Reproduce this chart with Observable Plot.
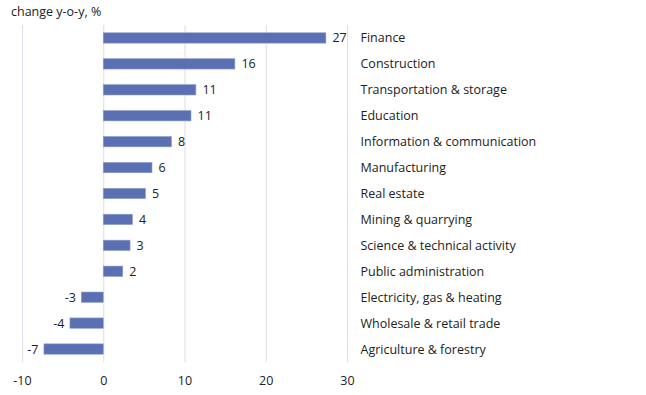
<!DOCTYPE html>
<html>
<head>
<meta charset="utf-8">
<script src="https://cdn.jsdelivr.net/npm/d3@7"></script>
<script src="https://cdn.jsdelivr.net/npm/@observablehq/plot@0.6"></script>
<style>
  body { margin: 0; background: #fff; font-family: "Open Sans", sans-serif; }
  #title { height: 22px; padding-left: 11px; font-size: 12.5px; line-height: 24px; color: #222; }
  #chart svg { display: block; }
</style>
</head>
<body>
<div id="title">change y-o-y, %</div>
<div id="chart"></div>
<script>
const sectors = [
  "Finance", "Construction", "Transportation & storage", "Education",
  "Information & communication", "Manufacturing", "Real estate",
  "Mining & quarrying", "Science & technical activity", "Public administration",
  "Electricity, gas & heating", "Wholesale & retail trade", "Agriculture & forestry"
];
const changes = [27.4, 16.2, 11.4, 10.8, 8.4, 6.0, 5.2, 3.6, 3.3, 2.4, -2.7, -4.1, -7.3];
const xTicks = [-10, 0, 10, 20, 30];

const data = sectors.map((s, i) => ({sector: s, value: changes[i]}));
const fmt = d => String(Math.round(d));

const chart = Plot.plot({
  width: 646,
  height: 373,
  marginTop: 3,
  marginBottom: 33,
  marginLeft: 22,
  marginRight: 299,
  style: {fontFamily: "Open Sans, sans-serif", fontSize: "12px", color: "#222"},
  x: {domain: [-10, 30], ticks: xTicks, label: null, tickSize: 0, tickPadding: 14},
  y: {domain: sectors, paddingInner: 0.6, paddingOuter: 0.3, round: false, label: null},
  marks: [
    Plot.gridX(xTicks, {stroke: "#dcdcea", strokeOpacity: 1}),
    Plot.barX(data, {x: "value", y: "sector", fill: "#5b6fb3", stroke: "#8fa0d0", strokeWidth: 0.6}),
    Plot.text(data.filter(d => d.value >= 0), {x: "value", y: "sector", text: d => fmt(d.value), textAnchor: "start", dx: 6, fontSize: 12.5, fill: "#222"}),
    Plot.text(data.filter(d => d.value < 0), {x: "value", y: "sector", text: d => fmt(d.value), textAnchor: "end", dx: -6, fontSize: 12.5, fill: "#222"}),
    Plot.axisX({ticks: xTicks, tickSize: 0, tickPadding: 14, fontSize: 12.5, tickFormat: d => String(d)}),
    Plot.axisY({anchor: "right", tickSize: 0, tickPadding: 13, fontSize: 12.5, textAnchor: "start"})
  ]
});
document.getElementById("chart").appendChild(chart);
</script>
</body>
</html>
